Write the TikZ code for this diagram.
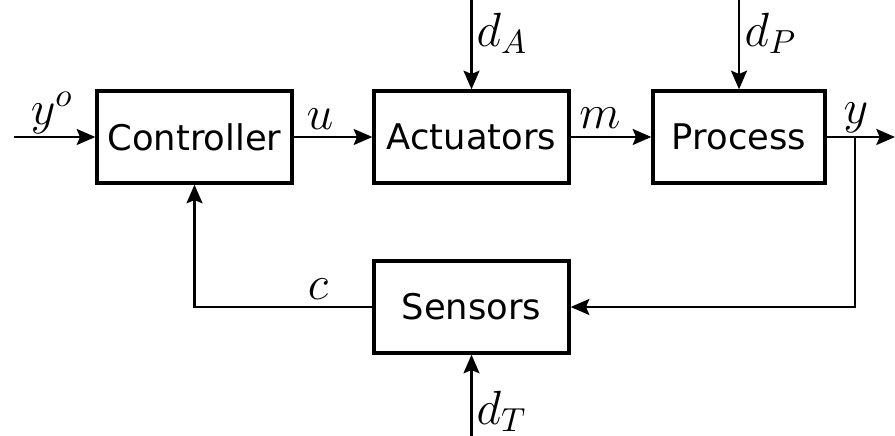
\documentclass[tikz,border=0pt]{standalone}
\usepackage{fontspec}
\usepackage{amsmath}
\newfontfamily\blockfont{DejaVu Sans}
\usetikzlibrary{arrows.meta}

\begin{document}
\begin{tikzpicture}[x=0.3pt,y=-0.3pt,
  block/.style={draw=black, line width=1pt, minimum width=58.5pt, minimum height=27.6pt, inner sep=0pt, font=\blockfont\fontsize{10.6}{12}\selectfont},
  sig/.style={line width=0.7pt, -{Stealth[length=5.6pt,width=4.8pt,inset=1pt]}},
  lbl/.style={inner sep=0pt, font=\fontsize{14}{16}\selectfont}]
\useasboundingbox (0,0) rectangle (895,436);
\node[block] (ctrl) at (194.5,137) {Controller};
\node[block] (act) at (471.5,137) {Actuators};
\node[block, minimum width=51.6pt] (proc) at (739,137) {Process};
\node[block] (sens) at (471.5,307) {Sensors};
\coordinate (yin) at (14,137);
\coordinate (yout) at (895,137);
\coordinate (ybr) at (855,137);
\coordinate (dAin) at (471.5,0);
\coordinate (dPin) at (739,0);
\coordinate (dTin) at (471.5,436);
\draw[sig] (yin) -- (ctrl);
\draw[sig] (ctrl) -- (act);
\draw[sig] (act) -- (proc);
\draw[sig] (proc) -- (yout);
\draw[sig] (ybr) |- (sens);
\draw[sig] (sens) -| (ctrl);
\draw[sig] (dAin) -- (act);
\draw[sig] (dPin) -- (proc);
\draw[sig] (dTin) -- (sens);
\node[lbl] (lyo) at (52,113) {$y^o$};
\node[lbl] (lu) at (320,119) {$u$};
\node[lbl] (lm) at (600,118) {$m$};
\node[lbl] (ly) at (856,118) {$y$};
\node[lbl, anchor=west] (ldA) at (476,33) {$d_A$};
\node[lbl, anchor=west] (ldP) at (744,33) {$d_P$};
\node[lbl] (lc) at (318,289) {$c$};
\node[lbl, anchor=west] (ldT) at (476,411) {$d_T$};
\end{tikzpicture}
\end{document}
